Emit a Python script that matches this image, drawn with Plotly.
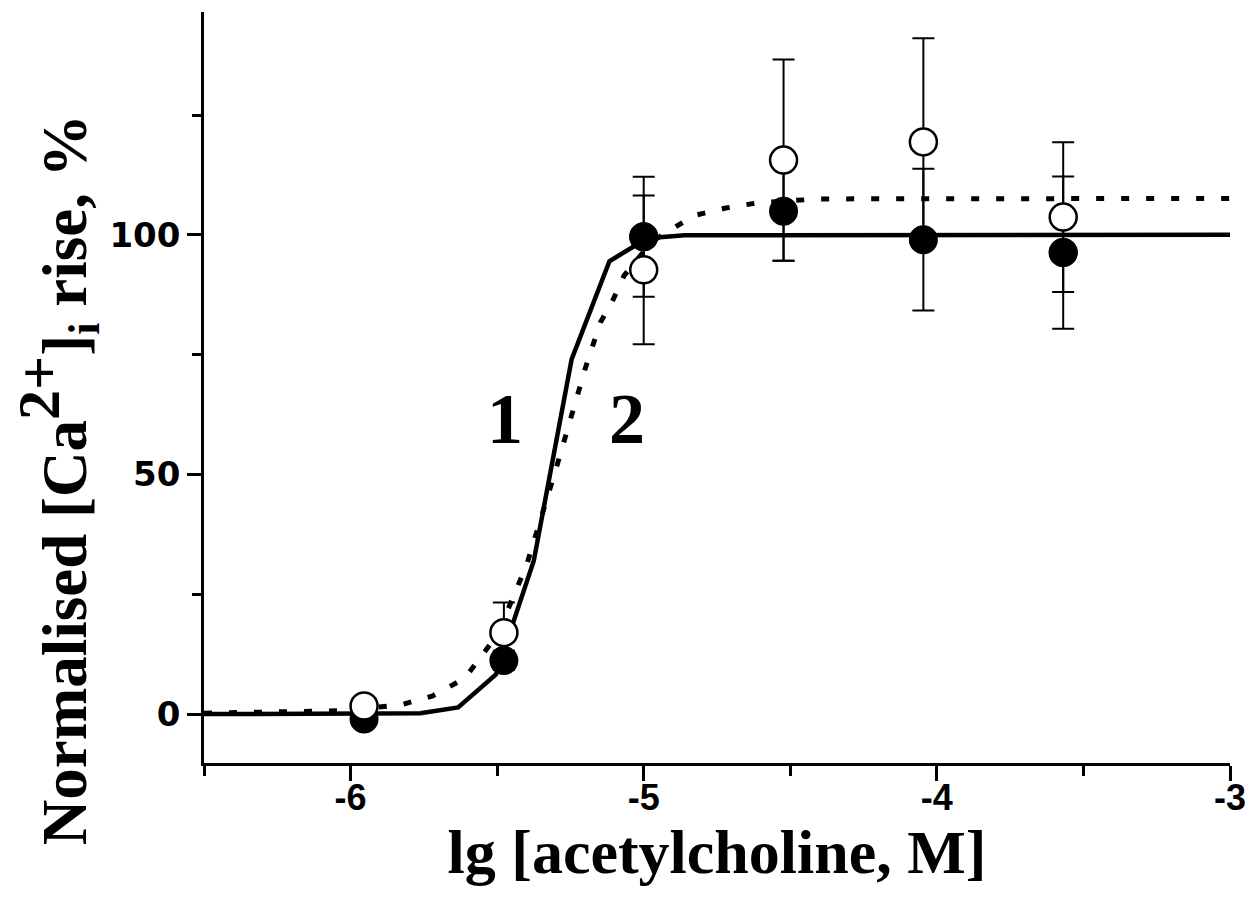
import plotly.graph_objects as go

# ---- data ----
conc_log = [-5.954, -5.477, -5.0, -4.523, -4.046, -3.569]

filled_y = [-1.0, 11.2, 99.6, 104.9, 99.0, 96.3]
filled_err = [1.5, 2.0, 12.5, 10.3, 14.8, 15.9]

open_y = [1.7, 17.0, 92.7, 115.6, 119.4, 103.7]
open_err = [1.5, 6.3, 15.5, 21.0, 21.6, 15.6]

# curve 1 (solid) vertices
curve1_x = [-6.5, -5.762, -5.633, -5.504, -5.375, -5.246, -5.117, -4.988, -4.86, -3.0]
curve1_y = [0.0, 0.2, 1.4, 8.3, 32.0, 74.0, 94.5, 99.3, 99.9, 100.0]

# curve 2 (dotted) vertices
curve2_x = [-6.5, -6.04, -5.83, -5.72, -5.61, -5.50, -5.40, -5.30, -5.20, -5.148, -5.108,
            -5.067, -4.972, -4.83, -4.72, -4.61, -4.40, -3.0]
curve2_y = [0.2, 0.7, 1.9, 3.8, 7.5, 16.5, 31.0, 51.0, 72.0, 81.7, 86.0,
            91.5, 98.6, 104.0, 105.6, 106.7, 107.5, 107.6]

curve_labels = ["1", "2"]
label_x = [-5.473, -5.056]
label_y = [61.5, 61.5]

x_ticks = [-6, -5, -4, -3]
y_ticks = [0, 50, 100]

filled_on_top_idx = [2, 5]

y_title = 'Normalised [Ca<sup><span style="font-size:60px">2+</span></sup>]<sub>i</sub> rise, %'

fig = go.Figure()

fig.add_trace(go.Scatter(x=curve1_x, y=curve1_y, mode="lines",
                         line=dict(color="black", width=4.5), showlegend=False))
fig.add_trace(go.Scatter(x=curve2_x, y=curve2_y, mode="lines",
                         line=dict(color="black", width=5, dash="8px,17px"), showlegend=False))

fig.add_trace(go.Scatter(
    x=conc_log, y=filled_y, mode="markers",
    marker=dict(symbol="circle", size=27, color="black", line=dict(color="black", width=2)),
    error_y=dict(type="data", array=filled_err, visible=True, color="black", thickness=2, width=11),
    showlegend=False))

fig.add_trace(go.Scatter(
    x=conc_log, y=open_y, mode="markers",
    marker=dict(symbol="circle", size=27, color="white", line=dict(color="black", width=2.5)),
    error_y=dict(type="data", array=open_err, visible=True, color="black", thickness=2, width=11),
    showlegend=False))

fig.add_trace(go.Scatter(
    x=[conc_log[i] for i in filled_on_top_idx], y=[filled_y[i] for i in filled_on_top_idx],
    mode="markers",
    marker=dict(symbol="circle", size=27, color="black", line=dict(color="black", width=2)),
    showlegend=False))

for t, xx, yy in zip(curve_labels, label_x, label_y):
    fig.add_annotation(x=xx, y=yy, text=t, showarrow=False,
                       font=dict(family="Liberation Serif", size=72, color="black", weight="bold"))

# y-axis title placed as a rotated annotation (it sits lower than the plot centre)
fig.add_annotation(xref="paper", yref="paper", x=-0.142, y=0.377, text=y_title,
                   textangle=-90, showarrow=False, xanchor="center", yanchor="middle",
                   font=dict(family="Liberation Serif", size=63, color="black", weight="bold"))

# page body has an 8px margin, so the figure is shrunk by 8px and margins shifted
fig.update_layout(
    width=1245, height=902,
    margin=dict(l=196, r=23, t=4, b=147),
    plot_bgcolor="white", paper_bgcolor="white",
    font=dict(family="Liberation Sans", color="black"),
)

fig.update_xaxes(
    range=[-6.5, -3], tickvals=x_ticks, ticktext=[str(v) for v in x_ticks],
    showgrid=False, zeroline=False, showline=True, linecolor="black", linewidth=2.5,
    ticks="outside", ticklen=15, tickwidth=2.5, tickcolor="black",
    minor=dict(dtick=0.5, tick0=-6.5, ticks="outside", ticklen=10, tickwidth=2.5, tickcolor="black", showgrid=False),
    tickfont=dict(family="Liberation Sans", size=36, weight="bold"),
    ticklabelstandoff=-14,
    title=dict(text="lg [acetylcholine, M]", standoff=8,
               font=dict(family="Liberation Serif", size=62, weight="bold")),
)

fig.update_yaxes(
    range=[-10.2, 146.5], tickvals=y_ticks, ticktext=[str(v) for v in y_ticks],
    showgrid=False, zeroline=False, showline=True, linecolor="black", linewidth=2.5,
    ticks="outside", ticklen=14, tickwidth=2.5, tickcolor="black",
    minor=dict(tickvals=[25, 75, 125], ticks="outside", ticklen=9, tickwidth=2.5, tickcolor="black", showgrid=False),
    tickfont=dict(family="DejaVu Sans", size=34, weight="bold"),
)

fig.write_html("out.html")
